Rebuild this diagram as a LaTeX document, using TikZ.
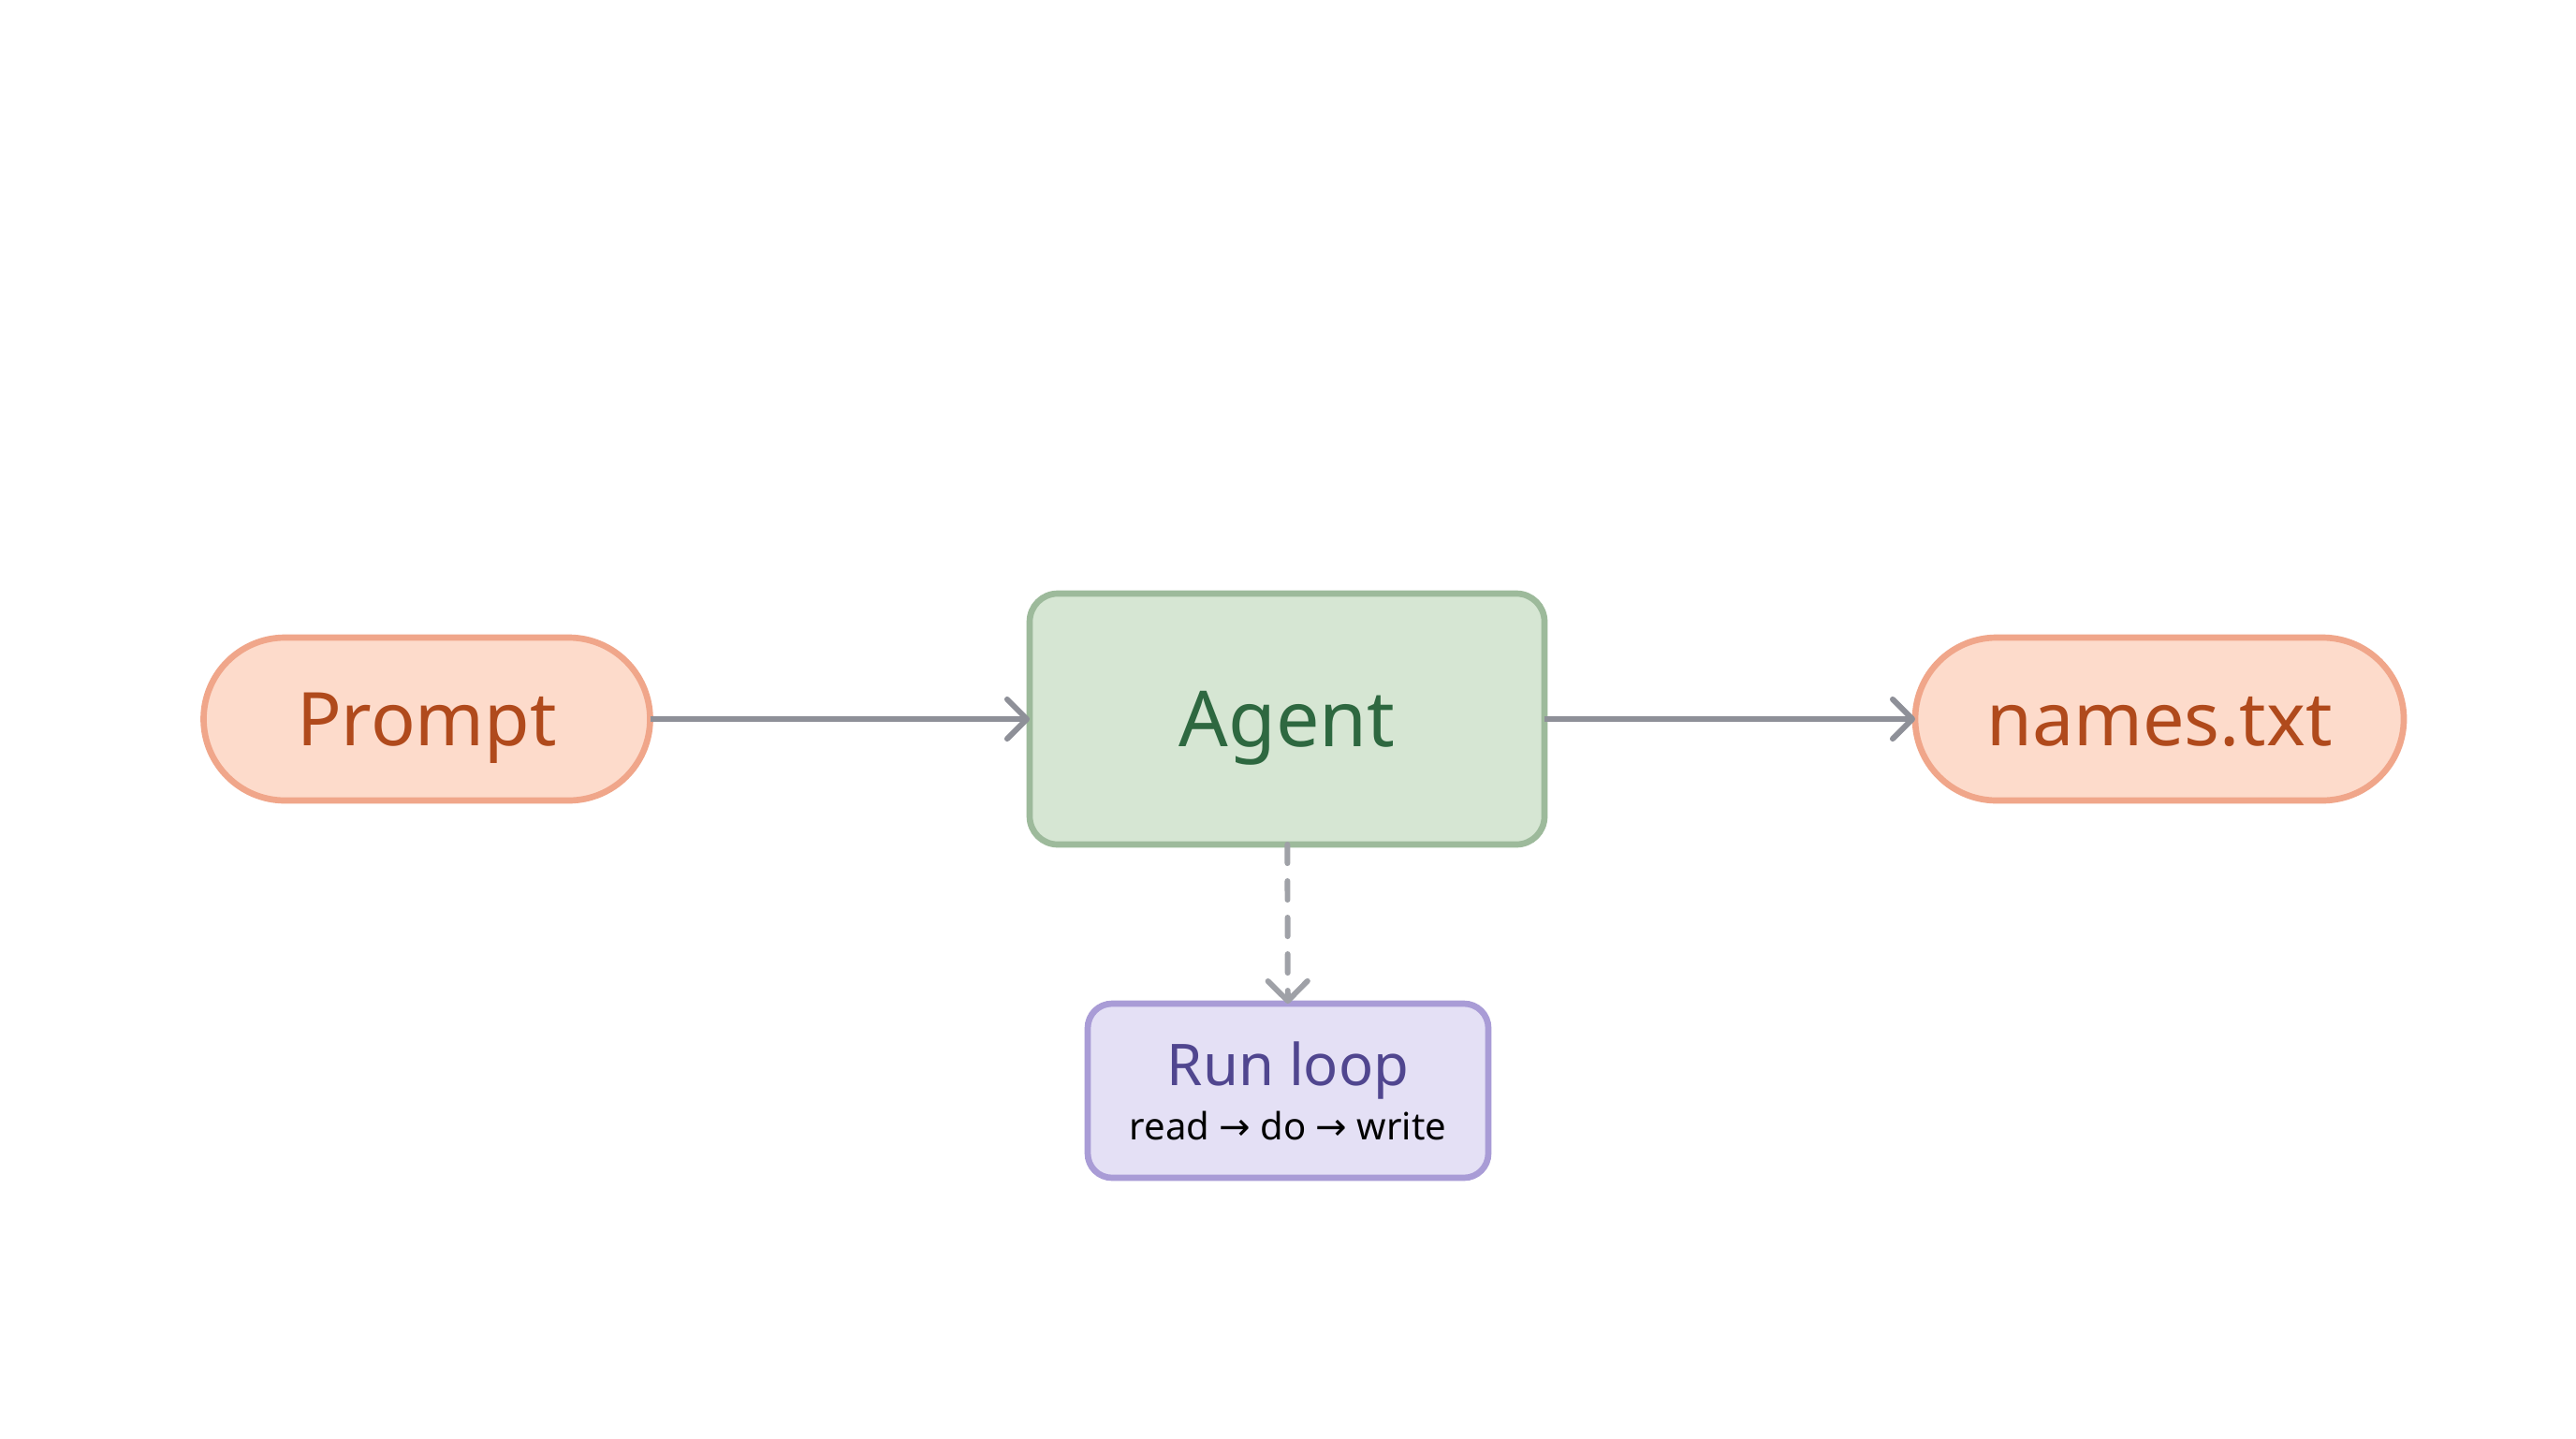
\documentclass[tikz,border=0pt]{standalone}
\usepackage{fontspec}
\setmainfont{Noto Sans}
\newfontfamily\arrowfont{DejaVu Sans}
\usetikzlibrary{arrows.meta}
\definecolor{pillfill}{HTML}{FDDBCB}
\definecolor{pilldraw}{HTML}{F0A68A}
\definecolor{pilltext}{HTML}{B04A1C}
\definecolor{agentfill}{HTML}{D6E6D3}
\definecolor{agentdraw}{HTML}{9DBA9B}
\definecolor{agenttext}{HTML}{2E6840}
\definecolor{loopfill}{HTML}{E4E0F5}
\definecolor{loopdraw}{HTML}{A99CD6}
\definecolor{looptext}{HTML}{50468F}
\definecolor{wire}{HTML}{8E9098}
\newcommand{\ra}{{\arrowfont\char"2192}}
\begin{document}
\begin{tikzpicture}[every node/.style={inner sep=0pt, outer sep=0pt, line width=1.9pt},
  pill/.style={fill=pillfill, draw=pilldraw, text=pilltext, rounded corners=0.87cm, minimum height=1.74cm, text height=16.1pt, text depth=0pt, font=\fontsize{22.5}{27}\selectfont},
  agentbox/.style={fill=agentfill, draw=agentdraw, text=agenttext, rounded corners=0.3cm, minimum width=5.5cm, minimum height=2.68cm, text height=16.8pt, text depth=0pt, font=\fontsize{23.5}{28}\selectfont},
  loopbox/.style={fill=loopfill, draw=loopdraw, text=looptext, rounded corners=0.26cm, minimum width=4.28cm, minimum height=1.86cm, align=center, font=\fontsize{17.5}{15}\selectfont},
  wire/.style={draw=wire, line width=1.7pt, -{Straight Barb[length=6pt,width=12pt,line cap=round,line join=round]}}]
\fill[white] (0,0) rectangle (27.52,-15.36);
\useasboundingbox (0,0) rectangle (27.52,-15.36);
\node[pill, minimum width=4.77cm] (prompt) at (4.56,-7.68) {Prompt};
\node[agentbox] (agent) at (13.75,-7.68) {Agent};
\node[pill, minimum width=5.22cm] (names) at (23.07,-7.68) {names.txt};
\node[loopbox] (loop) at (13.76,-11.65) {Run loop\\[1.5pt]{\color{black}\fontsize{11.4}{13}\selectfont read \ra{} do \ra{} write}};
\draw[wire] (prompt) -- (agent);
\draw[wire] (agent) -- (names);
\draw[wire, draw=wire!85, dash pattern=on 5.7pt off 5.4pt, line cap=round] (agent) -- (loop);
\end{tikzpicture}
\end{document}
